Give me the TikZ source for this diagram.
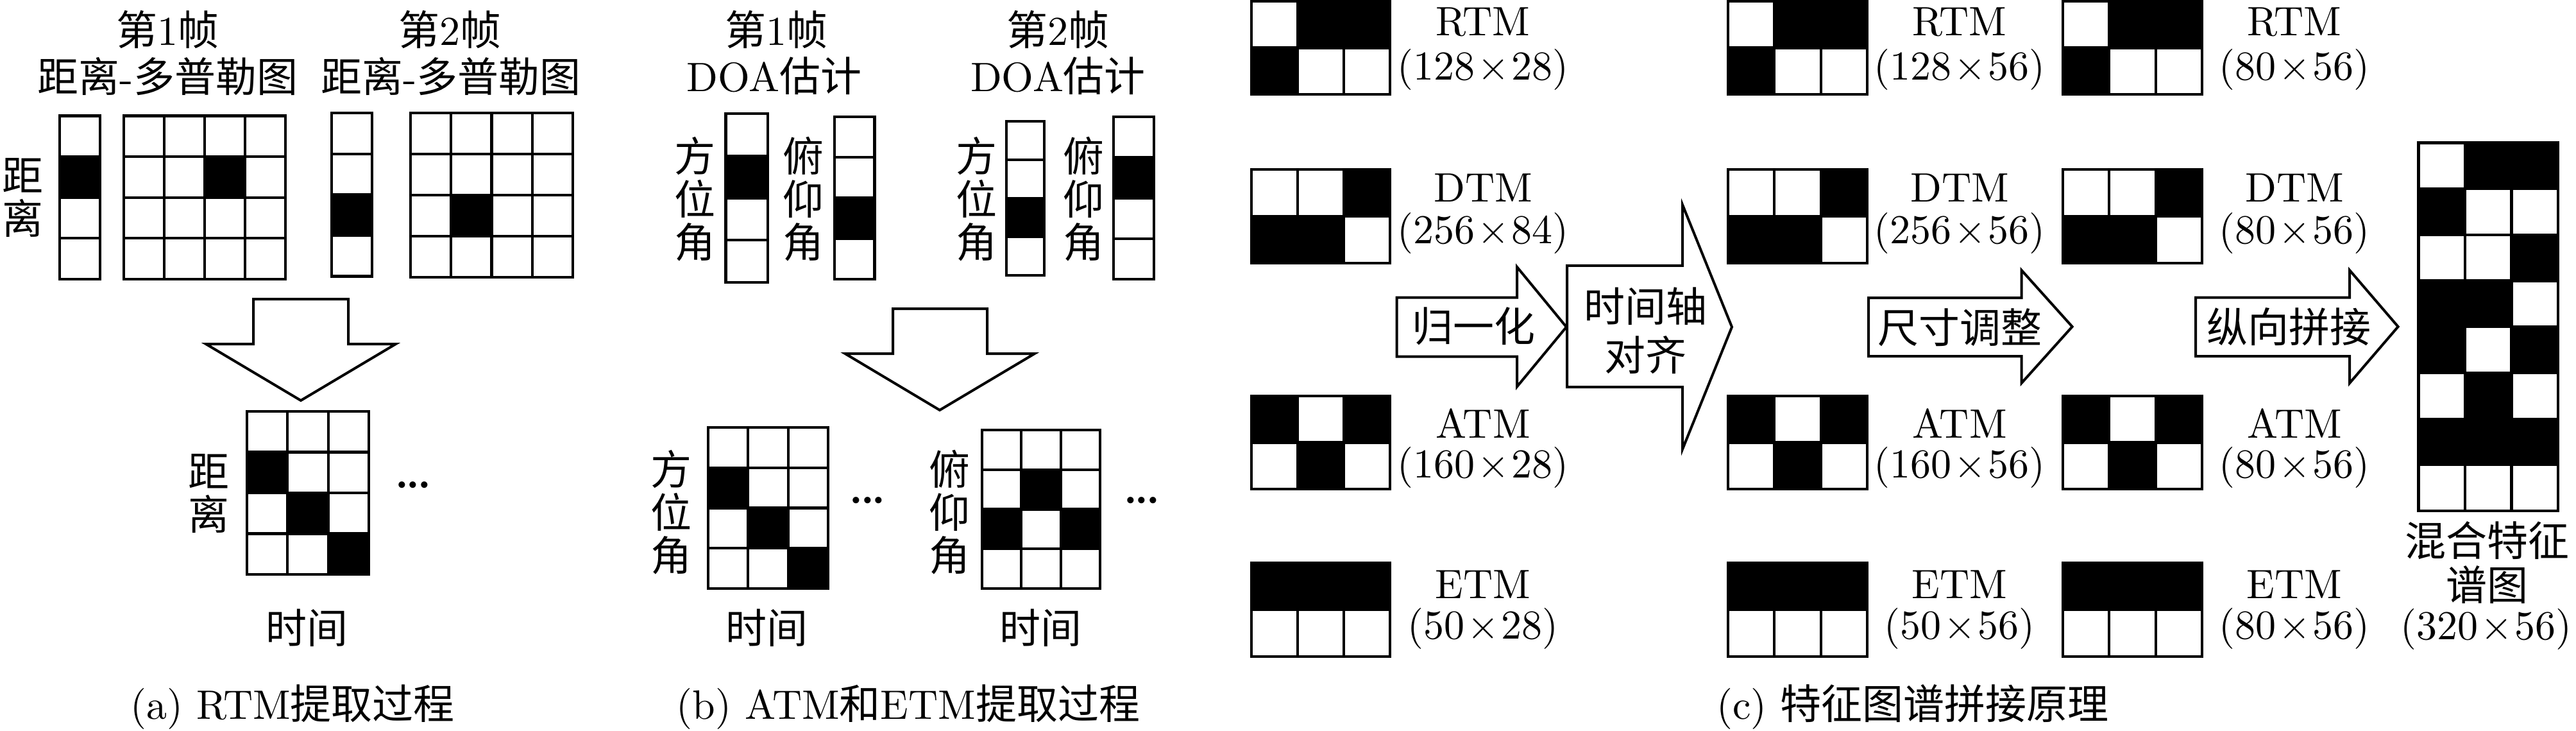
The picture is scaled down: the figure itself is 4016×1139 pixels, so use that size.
\documentclass[tikz,border=0pt]{standalone}
\usepackage{fontspec}
\setmainfont{lmroman10}[Extension=.otf, UprightFont=*-regular, BoldFont=*-bold, ItalicFont=*-italic]
\newfontfamily\cjk{Noto Sans CJK SC}
\newcommand\zh[1]{{\cjk #1}}
\newcommand\dimt[2]{(#1\kern.06em×\kern.06em#2)}
\newcommand\threedots{\fontsize{96}{96}\selectfont\makebox[17.5pt][c]{·}\makebox[17.5pt][c]{·}\makebox[17.5pt][c]{·}}
\newcommand\tgrid[7]{%
  \pgfmathsetmacro\gcw{(#3-#1)/#5}%
  \pgfmathsetmacro\gch{(#4-#2)/#6}%
  \foreach \ci/\ri in {#7}{\fill ({#1+\ci*\gcw},{#2+\ri*\gch}) rectangle ++(\gcw,\gch);}%
  \foreach \i in {0,...,#5}{\draw[gl] ({#1+\i*\gcw},#2) -- ({#1+\i*\gcw},#4);}%
  \foreach \j in {0,...,#6}{\draw[gl] (#1,{#2+\j*\gch}) -- (#3,{#2+\j*\gch});}%
  \draw[gl] (#1,#2) rectangle (#3,#4);%
}
\tikzset{
  gl/.style={line width=4.2pt, line join=miter},
  arr/.style={line width=4pt, line join=miter, fill=white},
  lat/.style={font=\fontsize{64}{72}\selectfont, inner sep=0pt},
  zh/.style={font=\cjk\fontsize{64}{72}\selectfont, inner sep=0pt},
  vzh/.style={font=\cjk\fontsize{64}{67}\selectfont, inner sep=0pt, align=center},
  dots/.style={inner sep=0pt, anchor=center},
}
\begin{document}
\begin{tikzpicture}[x=1pt,y=-1pt]
\useasboundingbox (0,0) rectangle (4016,1139);

% ---------------- panel (a) ----------------
\node[lat] (a-t1) at (261.5,46) {\zh{第}1\zh{帧}};
\node[lat] (a-s1) at (261.5,118.6) {\zh{距离}-\zh{多普勒图}};
\node[lat] (a-t2) at (701.6,46) {\zh{第}2\zh{帧}};
\node[lat] (a-s2) at (703,118.6) {\zh{距离}-\zh{多普勒图}};
\node[vzh] (a-r1) at (35,308) {距\\离};
\tgrid{93}{180.6}{156}{435}{1}{4}{0/1}
\tgrid{192.6}{180.6}{445}{435}{4}{4}{2/1}
\tgrid{517}{176}{580}{430.5}{1}{4}{0/2}
\tgrid{640}{176}{893}{432}{4}{4}{1/2}
\draw[arr] (395,466) -- (543,466) -- (543,536) -- (617,536) -- (469,624) -- (321,536) -- (395,536) -- cycle;
\tgrid{385}{641}{575}{895}{3}{4}{0/1,1/2,2/3}
\node[vzh] (a-r2) at (325,768.7) {距\\离};
\node[dots] (a-dots) at (644,770) {\threedots};
\node[zh] (a-time) at (478,978) {时间};
\node[lat] (a-cap) at (456,1102) {(a) RTM\zh{提取过程}};

% ---------------- panel (b) ----------------
\node[lat] (b-t1) at (1210,46) {\zh{第}1\zh{帧}};
\node[lat] (b-s1) at (1207,118.6) {DOA\zh{估计}};
\node[lat] (b-t2) at (1649.5,46) {\zh{第}2\zh{帧}};
\node[lat] (b-s2) at (1649.5,118.6) {DOA\zh{估计}};
\node[vzh] (b-a1) at (1083,310) {方\\位\\角};
\node[vzh] (b-e1) at (1252.6,310) {俯\\仰\\角};
\node[vzh] (b-a2) at (1522,310) {方\\位\\角};
\node[vzh] (b-e2) at (1689,310) {俯\\仰\\角};
\tgrid{1131.5}{177}{1197}{440}{1}{4}{0/1}
\tgrid{1301}{182}{1363.5}{435}{1}{4}{0/2}
\tgrid{1569}{188.7}{1628}{429}{1}{4}{0/2}
\tgrid{1736}{182}{1799}{435}{1}{4}{0/1}
\draw[arr] (1392,481) -- (1539,481) -- (1539,551) -- (1613,551) -- (1465,639) -- (1317.5,551) -- (1392,551) -- cycle;
\tgrid{1104}{666}{1291}{917}{3}{4}{0/1,1/2,2/3}
\tgrid{1531}{670}{1715}{917}{3}{4}{1/1,0/2,2/2}
\node[vzh] (b-a3) at (1046.6,798) {方\\位\\角};
\node[vzh] (b-e3) at (1480,798) {俯\\仰\\角};
\node[dots] (b-dots1) at (1352.6,794) {\threedots};
\node[dots] (b-dots2) at (1780,794) {\threedots};
\node[zh] (b-time1) at (1195,978) {时间};
\node[zh] (b-time2) at (1622,978) {时间};
\node[lat] (b-cap) at (1416,1102) {(b) ATM\zh{和}ETM\zh{提取过程}};

% ---------------- panel (c) ----------------
% column 1
\tgrid{1951}{2}{2167}{147}{3}{2}{1/0,2/0,0/1}
\tgrid{1951}{264}{2167}{410}{3}{2}{2/0,0/1,1/1}
\tgrid{1951}{617}{2167}{762}{3}{2}{0/0,2/0,1/1}
\tgrid{1951}{877}{2167}{1023}{3}{2}{0/0,1/0,2/0}
\node[lat] (c1-rn) at (2312,34) {RTM};
\node[lat] (c1-rd) at (2312,109) {\dimt{128}{28}};
\node[lat] (c1-dn) at (2312,293) {DTM};
\node[lat] (c1-dd) at (2312,364) {\dimt{256}{84}};
\node[lat] (c1-an) at (2312,660) {ATM};
\node[lat] (c1-ad) at (2312,728) {\dimt{160}{28}};
\node[lat] (c1-en) at (2312,911) {ETM};
\node[lat] (c1-ed) at (2312,979) {\dimt{50}{28}};
% arrows 1
\draw[arr] (2443,414) -- (2623,414) -- (2623,319) -- (2700,509.5) -- (2623,700) -- (2623,603) -- (2443,603) -- cycle;
\draw[arr] (2177.5,463.5) -- (2365,463.5) -- (2365,416) -- (2442,509.5) -- (2365,602.5) -- (2365,555.5) -- (2177.5,555.5) -- cycle;
\node[zh] (c-norm) at (2297,508) {归一化};
\node[vzh, font=\cjk\fontsize{64}{76}\selectfont] (c-align) at (2565,514.7) {时间轴\\对齐};
% column 2
\tgrid{2694}{2}{2911}{147}{3}{2}{1/0,2/0,0/1}
\tgrid{2694}{264}{2911}{410}{3}{2}{2/0,0/1,1/1}
\tgrid{2694}{617}{2911}{762}{3}{2}{0/0,2/0,1/1}
\tgrid{2694}{877}{2911}{1023}{3}{2}{0/0,1/0,2/0}
\node[lat] (c2-rn) at (3055,34) {RTM};
\node[lat] (c2-rd) at (3055,109) {\dimt{128}{56}};
\node[lat] (c2-dn) at (3055,293) {DTM};
\node[lat] (c2-dd) at (3055,364) {\dimt{256}{56}};
\node[lat] (c2-an) at (3055,660) {ATM};
\node[lat] (c2-ad) at (3055,728) {\dimt{160}{56}};
\node[lat] (c2-en) at (3055,911) {ETM};
\node[lat] (c2-ed) at (3055,979) {\dimt{50}{56}};
\draw[arr] (2913,464) -- (3151.5,464) -- (3151.5,421) -- (3230.6,509) -- (3151.5,597) -- (3151.5,555) -- (2913,555) -- cycle;
\node[zh] (c-resize) at (3055,510) {尺寸调整};
% column 3
\tgrid{3216}{2}{3433}{147}{3}{2}{1/0,2/0,0/1}
\tgrid{3216}{264}{3433}{410}{3}{2}{2/0,0/1,1/1}
\tgrid{3216}{617}{3433}{762}{3}{2}{0/0,2/0,1/1}
\tgrid{3216}{877}{3433}{1023}{3}{2}{0/0,1/0,2/0}
\node[lat] (c3-rn) at (3577,34) {RTM};
\node[lat] (c3-rd) at (3577,109) {\dimt{80}{56}};
\node[lat] (c3-dn) at (3577,293) {DTM};
\node[lat] (c3-dd) at (3577,364) {\dimt{80}{56}};
\node[lat] (c3-an) at (3577,660) {ATM};
\node[lat] (c3-ad) at (3577,728) {\dimt{80}{56}};
\node[lat] (c3-en) at (3577,911) {ETM};
\node[lat] (c3-ed) at (3577,979) {\dimt{80}{56}};
\draw[arr] (3423,463.5) -- (3663,463.5) -- (3663,421) -- (3738.6,509) -- (3663,597) -- (3663,555) -- (3423,555) -- cycle;
\node[zh] (c-concat) at (3568,509) {纵向拼接};
% mixed spectrum
\tgrid{3770.5}{222.5}{3988}{796}{3}{8}{1/0,2/0,0/1,2/2,0/3,1/3,0/4,2/4,1/5,0/6,1/6,2/6}
\node[vzh, font=\cjk\fontsize{64}{69}\selectfont] (c-mix) at (3877,876.5) {混合特征\\谱图};
\node[lat] (c-mixd) at (3876,980) {\dimt{320}{56}};
\node[lat] (c-cap) at (2982,1102) {(c) \zh{特征图谱拼接原理}};
\end{tikzpicture}
\end{document}
